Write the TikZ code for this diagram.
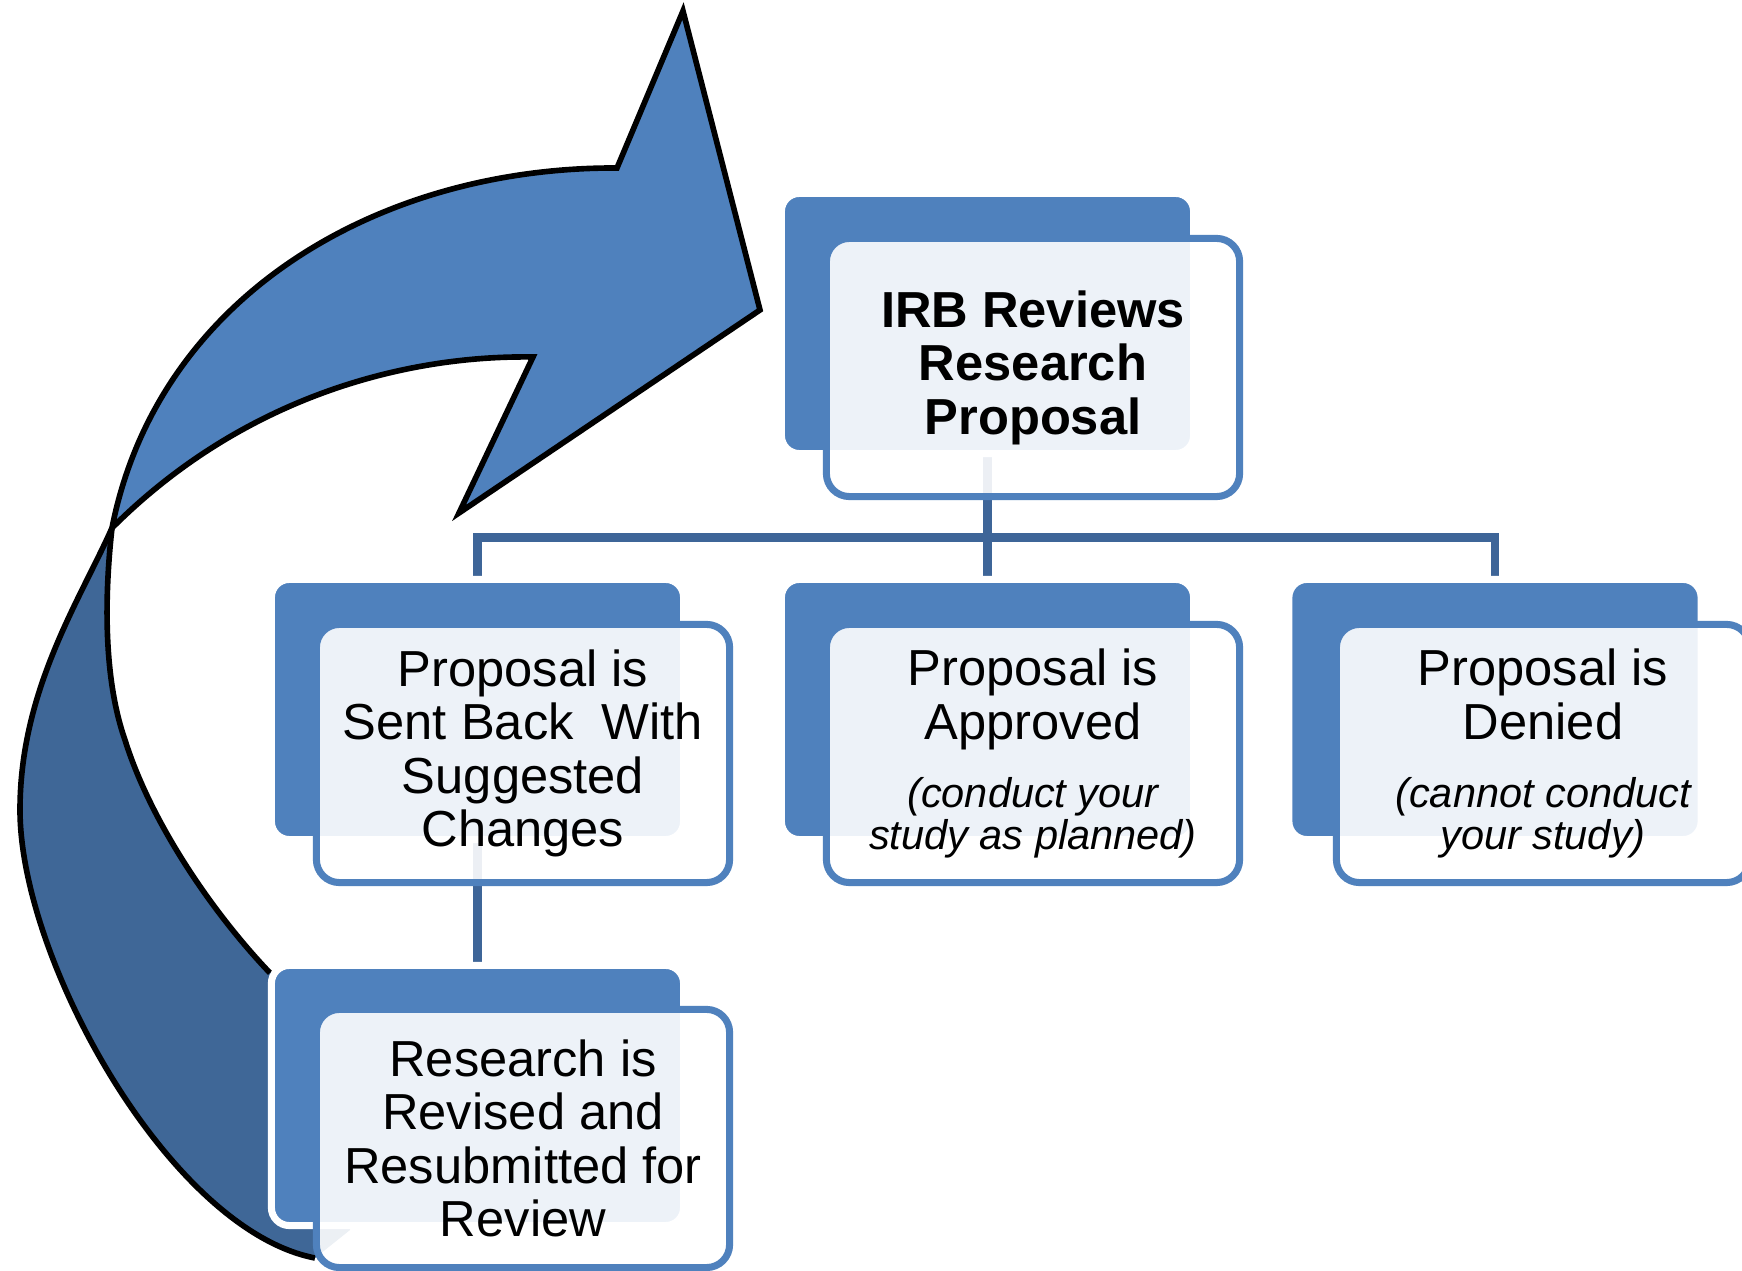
\documentclass[tikz,border=0pt]{standalone}
\usepackage{fontspec}
\setmainfont{Liberation Sans}
\usepackage{xcolor}
\usepackage{tikz}
\usetikzlibrary{backgrounds}

\definecolor{tileblue}{HTML}{4F81BD}
\definecolor{wireblue}{HTML}{3E6598}
\definecolor{ribbon}{HTML}{3F6797}

\newcommand{\asidefont}{\fontsize{11.8pt}{12pt}\selectfont\itshape}

\begin{document}
\begin{tikzpicture}[x=0.01cm, y=-0.01cm,
    tile/.style={draw=white, line width=2pt, fill=tileblue, rounded corners=0.18cm,
        minimum width=4.12cm, minimum height=2.6cm, inner sep=0pt},
    card/.style={draw=tileblue, line width=2pt, fill=white, fill opacity=0.9, text opacity=1,
        rounded corners=0.23cm, minimum width=4.13cm, minimum height=2.58cm,
        inner sep=0pt, align=center, font=\fontsize{14.4pt}{15.2pt}\selectfont},
    wire/.style={draw=wireblue, line width=2.3pt},
    edge/.style={draw=black, line width=1.6pt}]
    \useasboundingbox (0,0) rectangle (1742,1271);

    % back tiles
    \node[tile] (irbB) at (987.5,323.5) {};
    \node[tile] (sentB) at (477.5,709.5) {};
    \node[tile] (approvedB) at (987.5,709.5) {};
    \node[tile] (deniedB) at (1495,709.5) {};
    \node[tile] (revisedB) at (477.5,1095.5) {};

    % front cards with the text
    \node[card, font=\fontsize{14.4pt}{15.2pt}\selectfont\bfseries] (irb) at (1033,367.5)
        {IRB Reviews\\Research\\Proposal};
    \node[card] (sent) at (523,753.5) {Proposal is\\Sent Back\ \ With\\Suggested\\Changes};
    \node[card] (approved) at (1033,753.5)
        {Proposal is\\Approved\\[4.4pt]{\asidefont (conduct your}\\[-3.4pt]{\asidefont study as planned)}};
    \node[card] (denied) at (1543,753.5)
        {Proposal is\\Denied\\[4.4pt]{\asidefont (cannot conduct}\\[-3.4pt]{\asidefont your study)}};
    \node[card] (revised) at (523,1138.5) {Research is\\Revised and\\Resubmitted for\\Review};

    \coordinate (bus) at (987.5,537.5);

    \begin{scope}[on background layer]
        \fill[white] (0,0) rectangle (1742,1271);
        % curved arrow, lower (twisted) part
        \fill[ribbon] (112,528) .. controls (80,600) and (20,690) .. (20,810)
            .. controls (20,960) and (170,1230) .. (315,1258) -- (350,1230) -- (330,1010) -- (267,970)
            .. controls (210,910) and (150,820) .. (125,740)
            .. controls (104,680) and (104,600) .. (112,528) -- cycle;
        \draw[edge] (112,528) .. controls (80,600) and (20,690) .. (20,810)
            .. controls (20,960) and (170,1230) .. (315,1258);
        \draw[edge] (112,528) .. controls (104,600) and (104,680) .. (125,740)
            .. controls (150,820) and (210,910) .. (270,973);
        % upper part with the head
        \filldraw[edge, fill=tileblue] (112,528) .. controls (158,295) and (380,167) .. (617,168)
            -- (683,11) -- (760,310) -- (459,513) -- (533,357)
            .. controls (400,355) and (240,400) .. (112,528) -- cycle;

        \draw[wire] (irbB.south) -- (approvedB.north);
        \draw[wire] (sentB.north) |- (bus) -| (deniedB.north);
        \draw[wire] (sentB.south) -- (revisedB.north);
    \end{scope}
\end{tikzpicture}
\end{document}
